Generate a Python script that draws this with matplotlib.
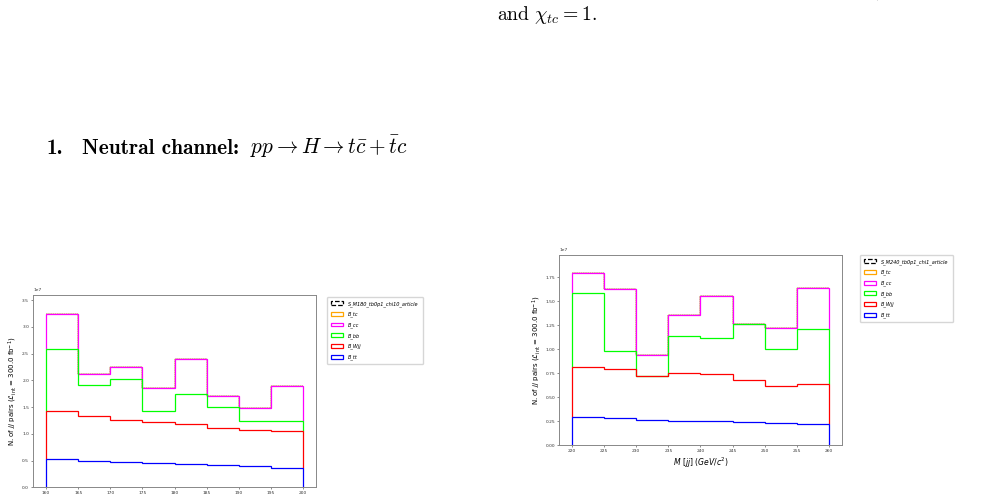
import numpy as np
import matplotlib
matplotlib.use("Agg")
import matplotlib.pyplot as plt

# bin edges for the two mass windows
edges_180 = np.arange(160, 201, 5)
edges_240 = np.arange(220, 261, 5)

# visible stack levels (cumulative), units of 1e7
# M180 panel
tt_180 = np.array([0.52, 0.49, 0.47, 0.455, 0.44, 0.42, 0.40, 0.37])
wjj_top_180 = np.array([1.43, 1.33, 1.25, 1.22, 1.19, 1.11, 1.065, 1.05])
bb_top_180 = np.array([2.58, 1.905, 2.02, 1.42, 1.75, 1.50, 1.245, 1.245])
cc_top_180 = np.array([3.23, 2.12, 2.24, 1.85, 2.40, 1.71, 1.48, 1.89])
tc_180 = np.zeros(8)
sig_180 = np.zeros(8)

# M240 panel
tt_240 = np.array([0.289, 0.278, 0.264, 0.254, 0.250, 0.240, 0.226, 0.216])
wjj_top_240 = np.array([0.814, 0.790, 0.720, 0.755, 0.738, 0.678, 0.619, 0.633])
bb_top_240 = np.array([1.583, 0.981, 0.720, 1.141, 1.120, 1.260, 1.002, 1.207])
cc_top_240 = np.array([1.795, 1.628, 0.939, 1.353, 1.552, 1.260, 1.225, 1.635])
tc_240 = np.zeros(8)
sig_240 = np.zeros(8)

labels = ['B_tt', 'B_Wjj', 'B_bb', 'B_cc', 'B_tc']
colors = ['blue', 'red', 'lime', 'magenta', 'orange', 'black']


def draw_panel(ax, edges, tt, wjj_top, bb_top, cc_top, tc, sig, sig_label, ymax):
    # per-process contributions from the stack levels
    comps = [tt, wjj_top - tt, bb_top - wjj_top, cc_top - bb_top, tc, sig]
    centers = 0.5 * (edges[:-1] + edges[1:])
    weights = [c * 1e7 for c in comps]
    _, _, patches = ax.hist([centers] * len(weights), bins=edges, weights=weights,
                            stacked=True, histtype='step', color=colors,
                            label=labels + [sig_label], linewidth=0.9)
    for i, p in enumerate(patches):
        for poly in p:
            poly.set_zorder(10 - i)
    # tc and signal sit (hidden) under the cc line
    for p in patches[4:]:
        for poly in p:
            poly.set_linewidth(0.3)
    for poly in patches[-1]:
        poly.set_linestyle('--')
    ax.set_xlim(edges[0] - 2, edges[-1] + 2)
    ax.set_ylim(0, ymax)
    ax.set_xticks(edges)
    ax.tick_params(labelsize=3.2, length=1.5, width=0.4, pad=1.5, colors='#333333')
    ax.yaxis.get_offset_text().set_fontsize(3.2)
    for s in ax.spines.values():
        s.set_color('#888888')
        s.set_linewidth(0.7)
    ax.set_ylabel(r'N. of $jj$ pairs ($\mathcal{L}_{\rm int}$ = 300.0 fb$^{-1}$)',
                  fontsize=5, labelpad=2)
    ax.set_xlabel(r'$M\ [jj]\ (GeV/c^2)$', fontsize=5.5, labelpad=1.5)

    h, l = ax.get_legend_handles_labels()
    return h, l


def add_legend(ax, h, l, anchor):
    leg = ax.legend(h, l, loc='upper left', bbox_to_anchor=anchor,
                    borderaxespad=0, prop={'size': 3.6, 'style': 'italic'},
                    labelspacing=1.0, handlelength=2.4, handleheight=0.8,
                    handletextpad=1.0, borderpad=0.8, framealpha=0.8)
    for hd in leg.legend_handles:
        hd.set_linewidth(0.9)


fig = plt.figure(figsize=(9.93, 4.99), dpi=100)
plt.rcParams['mathtext.fontset'] = 'dejavusans'

ax1 = fig.add_axes([0.0335, 0.0234, 0.2847, 0.3854])
h, l = draw_panel(ax1, edges_180, tt_180, wjj_top_180, bb_top_180, cc_top_180,
                  tc_180, sig_180, 'S_M180_tb0p1_chi10_article', 3.594e7)
add_legend(ax1, h, l, (1.039, 0.99))

ax2 = fig.add_axes([0.5632, 0.1082, 0.2844, 0.3808])
h, l = draw_panel(ax2, edges_240, tt_240, wjj_top_240, bb_top_240, cc_top_240,
                  tc_240, sig_240, 'S_M240_tb0p1_chi1_article', 1.983e7)
add_legend(ax2, h, l, (1.065, 1.0))

# surrounding page text (Computer Modern look)
plt.rcParams['mathtext.fontset'] = 'cm'
fig.text(0.501, 1.008,
         r'$\mathrm{for\ the\ benchmark\ with\ } m_H = 240\ \mathrm{GeV,\ } \tan\beta = 0.1,\ \chi_{tt} = 1,$',
         fontsize=14.2, ha='left', va='baseline')
fig.text(0.501, 0.960, r'$\mathrm{and\ } \chi_{tc} = 1.$', fontsize=14.2,
         ha='left', va='baseline')
fig.text(0.047, 0.6914, '1.', family='cmb10', fontsize=15.4, va='baseline')
fig.text(0.0823, 0.6914, 'Neutral channel:', family='cmb10', fontsize=15.4,
         va='baseline')
fig.text(0.2518, 0.6914, r'$pp \to H \to t\bar{c} + \bar{t}c$', fontsize=15.4,
         va='baseline')

fig.savefig('out.png', dpi=100)
